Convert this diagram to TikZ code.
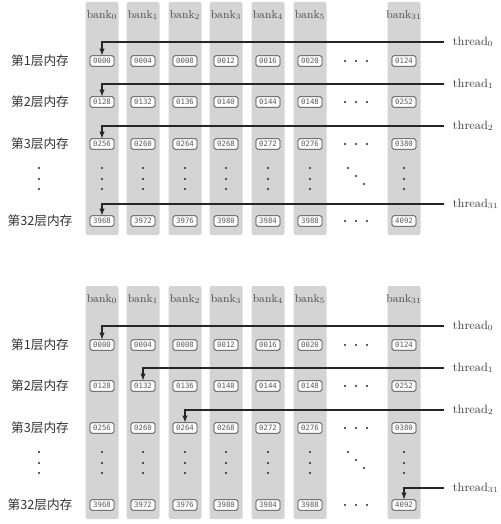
\documentclass[tikz,border=0pt]{standalone}
\usepackage{fontspec}
\setmonofont{DejaVu Sans Mono}
\newfontfamily\cjk{Noto Sans CJK SC}
\usetikzlibrary{arrows}
\usetikzlibrary{positioning}

% address with leading zeros
\newcommand{\addr}[1]{\ifnum#1<1000 0\fi\ifnum#1<100 0\fi\ifnum#1<10 0\fi#1}

\tikzset{
  bankstrip/.style={fill=black!17, rounded corners=1.5pt},
  cell/.style={draw=black!75, fill=white, rounded corners=1.2pt, line width=0.5pt, minimum width=18pt, minimum height=7.8pt, inner sep=0pt, font=\ttfamily\fontsize{5.5}{6}\selectfont, text=black!65},
  banklabel/.style={font=\fontsize{8.5}{10}\selectfont, text=black!70},
  threadlabel/.style={anchor=west, inner xsep=6.5pt, font=\fontsize{9}{10}\selectfont, text=black!75},
  layer/.style={font=\cjk\fontsize{9.5}{11}\selectfont, text=black!80},
  dot/.style={circle, fill=black!85, inner sep=0pt, minimum size=1.8pt},
}

\begin{document}
\begin{tikzpicture}[x=0.75pt, y=-0.75pt, >=latex]
\useasboundingbox (0,0) rectangle (500,524);

\foreach \p/\o/\m in {a/0/0, b/284/1} {
  \begin{scope}[shift={(0,\o)}]
    % Banks and memory cells
    \foreach \b/\x in {0/102, 1/143, 2/185, 3/226, 4/268, 5/310, 31/404} {
      \fill[bankstrip] (\x-16.5,2) rectangle (\x+16.5,235);
      \node[banklabel] (\p-bank\b) at (\x,15) {bank$_{\b}$};
      \foreach \r/\y in {1/61, 2/102, 3/144, 32/221} {
        \pgfmathtruncatemacro{\n}{(\r-1)*128+4*\b}
        \node[cell] (\p-\b-\r) at (\x,\y) {\addr{\n}};
      }
      \foreach \y in {168,179,189} \node[dot] at (\x,\y) {};
    }

    % Layers
    \foreach \r/\y in {1/61, 2/102, 3/144, 32/221}
      \node[layer] (\p-layer\r) at (40,\y) {第\r 层内存};
    \foreach \y in {168,179,189} \node[dot] at (39,\y) {};

    % Ellipsis between bank5 and bank31
    \foreach \y in {61,102,144,221}
      \foreach \x in {345,356,367} \node[dot] at (\x,\y) {};
    \foreach \x/\y in {348/168, 356/176, 364/184} \node[dot] at (\x,\y) {};

    % Threads
    \foreach \t/\y/\r in {0/42/1, 1/84/2, 2/126/3, 31/204/32} {
      \pgfmathtruncatemacro{\tb}{\t*\m}
      \node[threadlabel] (\p-thread\t) at (444,\y) {thread$_{\t}$};
      \draw[->, line width=0.8pt, black!85] (\p-thread\t.west) -| (\p-\tb-\r.north);
    }
  \end{scope}
}

\end{tikzpicture}
\end{document}
